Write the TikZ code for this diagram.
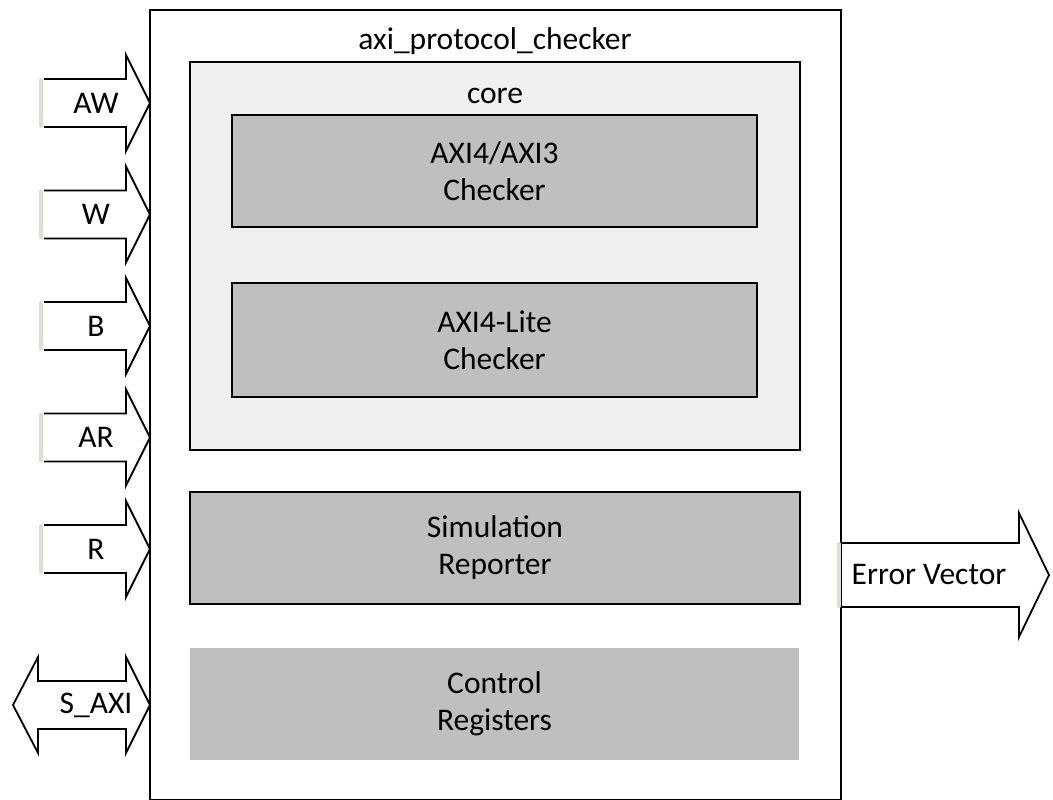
\documentclass[tikz,border=0pt]{standalone}
\usepackage{fontspec}
\setmainfont{Carlito}
\definecolor{boxgray}{RGB}{191,191,191}
\definecolor{coregray}{RGB}{240,240,240}
\definecolor{stubcol}{RGB}{221,222,204}
\begin{document}
\begin{tikzpicture}[x=1pt,y=-1pt,
  lbl/.style={font=\fontsize{31.5}{37}\selectfont, align=center, inner sep=0pt},
  outline/.style={draw=black, line width=1.5pt},
  corebox/.style={draw=black, line width=2pt, fill=coregray},
  blockbox/.style={draw=black, line width=2pt, fill=boxgray, lbl},
  plainbox/.style={fill=boxgray, lbl},
  stub/.style={draw=stubcol, line width=4pt, line cap=round},
  bigarrow/.style={draw=black, line width=1.8pt, fill=white, line join=miter}]
\useasboundingbox (0,0) rectangle (1053,800);

% main block
\draw[outline] (150,10) rectangle (841,800);
\node[lbl] (title) at (495,41) {axi\_protocol\_checker};

% core
\draw[corebox] (190,62) rectangle (800,450);
\node[lbl] (core) at (495,96) {core};
\node[blockbox, minimum width=525pt, minimum height=112pt] (full) at (494.5,171) {AXI4/AXI3\\Checker};
\node[blockbox, minimum width=525pt, minimum height=114pt] (lite) at (494.5,340) {AXI4-Lite\\Checker};

% other blocks
\node[blockbox, minimum width=610pt, minimum height=112pt] (sim) at (495,548) {Simulation\\Reporter};
\node[plainbox, minimum width=609pt, minimum height=112pt] (ctrl) at (494.5,704) {Control\\Registers};

% input arrows
\foreach \yc/\name/\txt in {103/aw/AW, 214.5/w/W, 326/b/B, 437.5/ar/AR, 549/r/R}{
  \draw[bigarrow] (44,\yc-24) -- (126,\yc-24) -- (126,\yc-48) -- (150,\yc)
     -- (126,\yc+48) -- (126,\yc+24) -- (44,\yc+24);
  \draw[stub] (41,\yc-23) -- (41,\yc+23);
  \node[lbl] (\name) at (96,\yc) {\txt};
}

% S_AXI double arrow
\draw[bigarrow] (13,705) -- (38,657) -- (38,681) -- (126,681) -- (126,657) -- (150,705)
   -- (126,753) -- (126,729) -- (38,729) -- (38,753) -- cycle;
\node[lbl] (saxi) at (96,705) {S\_AXI};

% Error vector output
\draw[bigarrow] (842,543) -- (1019,543) -- (1019,513) -- (1049,575)
   -- (1019,637) -- (1019,607) -- (842,607);
\draw[stub] (839,544) -- (839,606);
\node[lbl] (err) at (929,575) {Error Vector};
\end{tikzpicture}
\end{document}
